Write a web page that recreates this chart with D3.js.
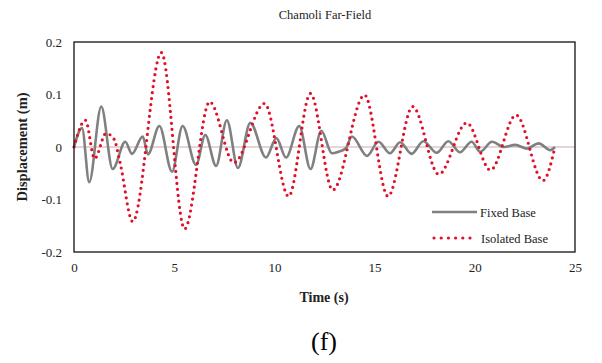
<!DOCTYPE html>
<html>
<head>
<meta charset="utf-8">
<script src="https://cdn.jsdelivr.net/npm/d3@7/dist/d3.min.js"></script>
<style>
  html, body { margin: 0; padding: 0; background: #fff; }
  svg { display: block; font-family: "Liberation Serif", "Times New Roman", serif; }
</style>
</head>
<body>
<svg id="chart" width="602" height="363"></svg>
<script>
// ---- data ----
const fixedTime = [0, 0.4, 0.76, 1.36, 1.93, 2.56, 2.89, 3.43, 3.69, 4.26, 4.89, 5.42, 6.09, 6.55, 7.09, 7.63, 8.18, 8.8, 9.58, 10.1, 10.58, 11.24, 11.8, 12.34, 12.87, 13.2, 13.55, 13.87, 14.62, 15.19, 15.77, 16.27, 16.85, 17.43, 18.1, 18.68, 19.26, 19.84, 20.27, 20.86, 21.45, 22.02, 22.6, 23.19, 23.77, 24.0];
const fixedDisp = [0, 0.036, -0.067, 0.077, -0.042, 0.01, -0.013, 0.02, -0.014, 0.04, -0.047, 0.04, -0.034, 0.023, -0.036, 0.051, -0.04, 0.046, -0.02, 0.017, -0.02, 0.04, -0.042, 0.031, -0.012, -0.009, -0.003, 0.02, -0.017, 0.01, -0.012, 0.009, -0.013, 0.011, -0.011, 0.011, -0.01, 0.01, -0.009, 0.01, 0.0, 0.004, -0.003, 0.007, -0.006, 0.0];

const isoTime = [0, 0.57, 1.03, 1.6, 2.0, 2.3, 2.93, 4.36, 5.52, 6.77, 7.98, 9.51, 10.71, 11.8, 12.91, 14.5, 15.67, 16.9, 18.2, 19.6, 20.78, 22.06, 23.4, 24.0];
const isoDisp = [0, 0.051, -0.022, 0.026, 0.015, -0.03, -0.142, 0.18, -0.156, 0.086, -0.03, 0.083, -0.094, 0.102, -0.082, 0.099, -0.094, 0.077, -0.052, 0.046, -0.044, 0.061, -0.064, 0.0];

const xTicks = [0, 5, 10, 15, 20, 25];
const yTicks = [-0.2, -0.1, 0, 0.1, 0.2];
const yTickLabels = ["-0.2", "-0.1", "0", "0.1", "0.2"];
const seriesNames = ["Fixed Base", "Isolated Base"];

// ---- layout ----
const svg = d3.select("#chart");
const L = 74, R = 575, T = 42, B = 252;
const x = d3.scaleLinear().domain([0, 25]).range([L, R]);
const y = d3.scaleLinear().domain([-0.2, 0.2]).range([B, T]);

const fixedPts = fixedTime.map((t, i) => [t, fixedDisp[i]]);
const isoPts = isoTime.map((t, i) => [t, isoDisp[i]]);

// zero line
svg.append("line")
  .attr("x1", x(0)).attr("x2", x(25))
  .attr("y1", y(0)).attr("y2", y(0))
  .attr("stroke", "#c6acae").attr("stroke-width", 1);

const line = d3.line().x(d => x(d[0])).y(d => y(d[1])).curve(d3.curveMonotoneX);

svg.append("path").datum(fixedPts)
  .attr("d", line)
  .attr("fill", "none")
  .attr("stroke", "#808080")
  .attr("stroke-width", 2.6)
  .attr("stroke-linejoin", "round");

svg.append("path").datum(isoPts)
  .attr("d", line)
  .attr("fill", "none")
  .attr("stroke", "#e0102a")
  .attr("stroke-width", 3.2)
  .attr("stroke-linecap", "round")
  .attr("stroke-dasharray", "0,6");

// frame
svg.append("rect")
  .attr("x", L).attr("y", T).attr("width", R - L).attr("height", B - T)
  .attr("fill", "none").attr("stroke", "#111").attr("stroke-width", 1.3);

// axes (labels only, like the reference)
const xAxis = d3.axisBottom(x).tickValues(xTicks).tickSize(0).tickPadding(11).tickFormat(d3.format("d"));
const gx = svg.append("g").attr("transform", `translate(0,${B})`).call(xAxis);
gx.select(".domain").remove();
gx.selectAll("text").attr("font-size", 13).attr("fill", "#222").attr("font-family", "Liberation Serif");

const yAxis = d3.axisLeft(y).tickValues(yTicks).tickSize(0).tickPadding(12)
  .tickFormat((d, i) => yTickLabels[i]);
const gy = svg.append("g").attr("transform", `translate(${L},0)`).call(yAxis);
gy.select(".domain").remove();
gy.selectAll("text").attr("font-size", 13).attr("fill", "#222").attr("font-family", "Liberation Serif");

// title
svg.append("text").attr("x", 325).attr("y", 19).attr("text-anchor", "middle")
  .attr("font-size", 12.5).attr("fill", "#222").text("Chamoli Far-Field");

// axis titles
svg.append("text").attr("x", 324).attr("y", 302).attr("text-anchor", "middle")
  .attr("font-size", 14).attr("font-weight", "bold").attr("fill", "#222").text("Time (s)");

svg.append("text")
  .attr("transform", `translate(27,${(T + B) / 2}) rotate(-90)`)
  .attr("text-anchor", "middle")
  .attr("font-size", 14.5).attr("font-weight", "bold").attr("fill", "#222").text("Displacement (m)");

// caption
svg.append("text").attr("x", 324).attr("y", 350).attr("text-anchor", "middle")
  .attr("font-size", 26).attr("fill", "#000").text("(f)");

// legend
const lg = svg.append("g");
lg.append("line").attr("x1", 432).attr("x2", 477).attr("y1", 212).attr("y2", 212)
  .attr("stroke", "#808080").attr("stroke-width", 2.6);
lg.append("text").attr("x", 480).attr("y", 216.5).attr("font-size", 12.5).attr("fill", "#222").text(seriesNames[0]);
lg.append("line").attr("x1", 434).attr("x2", 471).attr("y1", 238).attr("y2", 238)
  .attr("stroke", "#e0102a").attr("stroke-width", 3.2)
  .attr("stroke-linecap", "round").attr("stroke-dasharray", "0,7.2");
lg.append("text").attr("x", 481).attr("y", 242.5).attr("font-size", 12.5).attr("fill", "#222").text(seriesNames[1]);
</script>
</body>
</html>
